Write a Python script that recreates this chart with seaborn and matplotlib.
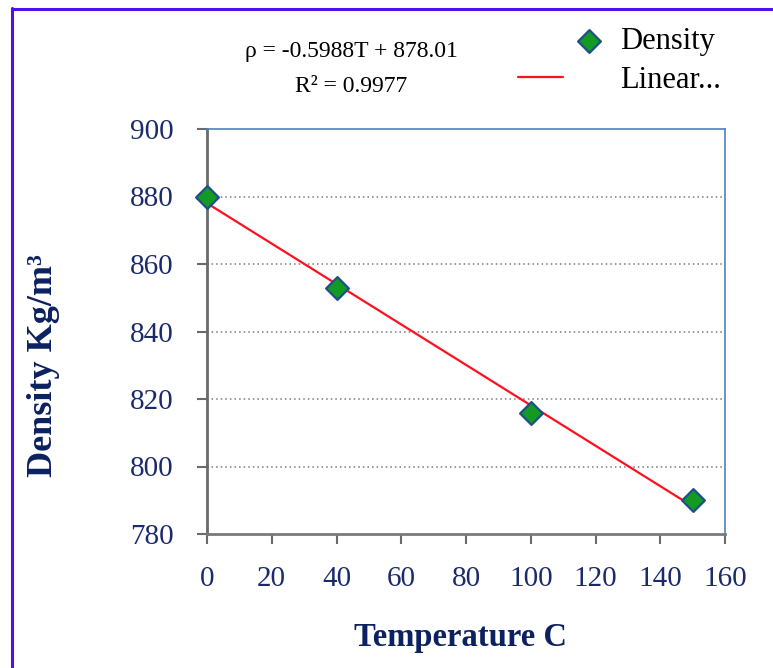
import numpy as np
import pandas as pd
import matplotlib
matplotlib.use("Agg")
import matplotlib.pyplot as plt
from matplotlib.lines import Line2D
from matplotlib.collections import PathCollection
from matplotlib.legend_handler import HandlerPathCollection
import seaborn as sns

# measured points
temperature = [0, 40, 100, 150]
density = [880, 853, 816, 790]

# trendline as reported on the chart
TREND_SLOPE = -0.5988
TREND_INTERCEPT = 878.01
R2 = 0.9977

x_ticks = [0, 20, 40, 60, 80, 100, 120, 140, 160]
y_ticks = [780, 800, 820, 840, 860, 880, 900]

NAVY = "#1b2a6b"
LABEL_NAVY = "#0b2160"
GRID = "#7a7a7a"

sns.set_theme(style="white")
plt.rcParams["font.family"] = ["Liberation Serif", "DejaVu Serif"]

df = pd.DataFrame({"T": temperature, "rho": density})
fit = pd.DataFrame({"T": [min(temperature), max(temperature)]})
fit["rho"] = TREND_SLOPE * fit["T"] + TREND_INTERCEPT

fig = plt.figure(figsize=(7.73, 6.68), dpi=100)
ax = fig.add_axes([207 / 773, 1 - 534 / 668, 518 / 773, 405 / 668])

sns.lineplot(data=fit, x="T", y="rho", ax=ax, color="#ff1020", linewidth=1.6,
             label="Linear...", zorder=3)
sns.scatterplot(data=df, x="T", y="rho", ax=ax, marker="D", s=135,
                color="#139a22", edgecolor="#1f4e8c", linewidth=1.6,
                label="Density", zorder=4, clip_on=False)

ax.set_xlim(0, 160)
ax.set_ylim(780, 900)
ax.set_xticks(x_ticks)
ax.set_yticks(y_ticks)
ax.tick_params(axis="both", bottom=True, left=True, direction="out", length=7,
               width=1.5, color="#6a6a6a", labelsize=21, labelcolor=NAVY)
ax.tick_params(axis="x", pad=16)
ax.tick_params(axis="y", pad=17)

for yv in y_ticks[1:-1]:
    ax.axhline(yv, color=GRID, linestyle=(0, (1, 2)), linewidth=1.1, zorder=1)

ax.spines["left"].set_color("#6a6a6a")
ax.spines["left"].set_linewidth(2)
ax.spines["bottom"].set_color("#7a7a7a")
ax.spines["bottom"].set_linewidth(2)
ax.spines["top"].set_color("#4f81bd")
ax.spines["top"].set_linewidth(1.2)
ax.spines["right"].set_color("#4f81bd")
ax.spines["right"].set_linewidth(1.2)

ax.set_xlabel("Temperature C", fontsize=23.5, fontweight="bold", color=LABEL_NAVY, va="center")
ax.set_ylabel("Density Kg/m³", fontsize=26, fontweight="bold", color=LABEL_NAVY, va="center")
ax.xaxis.set_label_coords(0.49, -0.255)
ax.yaxis.set_label_coords(-0.315, 0.415)

# trendline equation
fig.text(351 / 773, 1 - 52 / 668, f"ρ = {TREND_SLOPE}T + {TREND_INTERCEPT}",
         ha="center", va="center", fontsize=17, color="black")
fig.text(351 / 773, 1 - 87 / 668, f"R² = {R2}",
         ha="center", va="center", fontsize=17, color="black")

handles, labels = ax.get_legend_handles_labels()
ax.get_legend().remove()
order = [labels.index("Density"), labels.index("Linear...")]
fig.legend([handles[i] for i in order], [labels[i] for i in order],
           loc="upper left", bbox_to_anchor=(518 / 773, 1 - 27 / 668),
           frameon=False, fontsize=22, handlelength=1.47, handletextpad=1.86,
           labelspacing=0.33, borderpad=0.0, borderaxespad=0, labelcolor="black",
           handler_map={PathCollection: HandlerPathCollection(xpad=3.2)})

# purple frame around the chart (left and top edges visible)
frame_col = "#4f10ee"
fig.add_artist(Line2D([12 / 773, 12 / 773], [0, 1 - 8 / 668], transform=fig.transFigure,
                      color=frame_col, linewidth=2.2))
fig.add_artist(Line2D([12 / 773, 1], [1 - 9 / 668, 1 - 9 / 668], transform=fig.transFigure,
                      color=frame_col, linewidth=2.2))

fig.savefig("out.png", dpi=100)
